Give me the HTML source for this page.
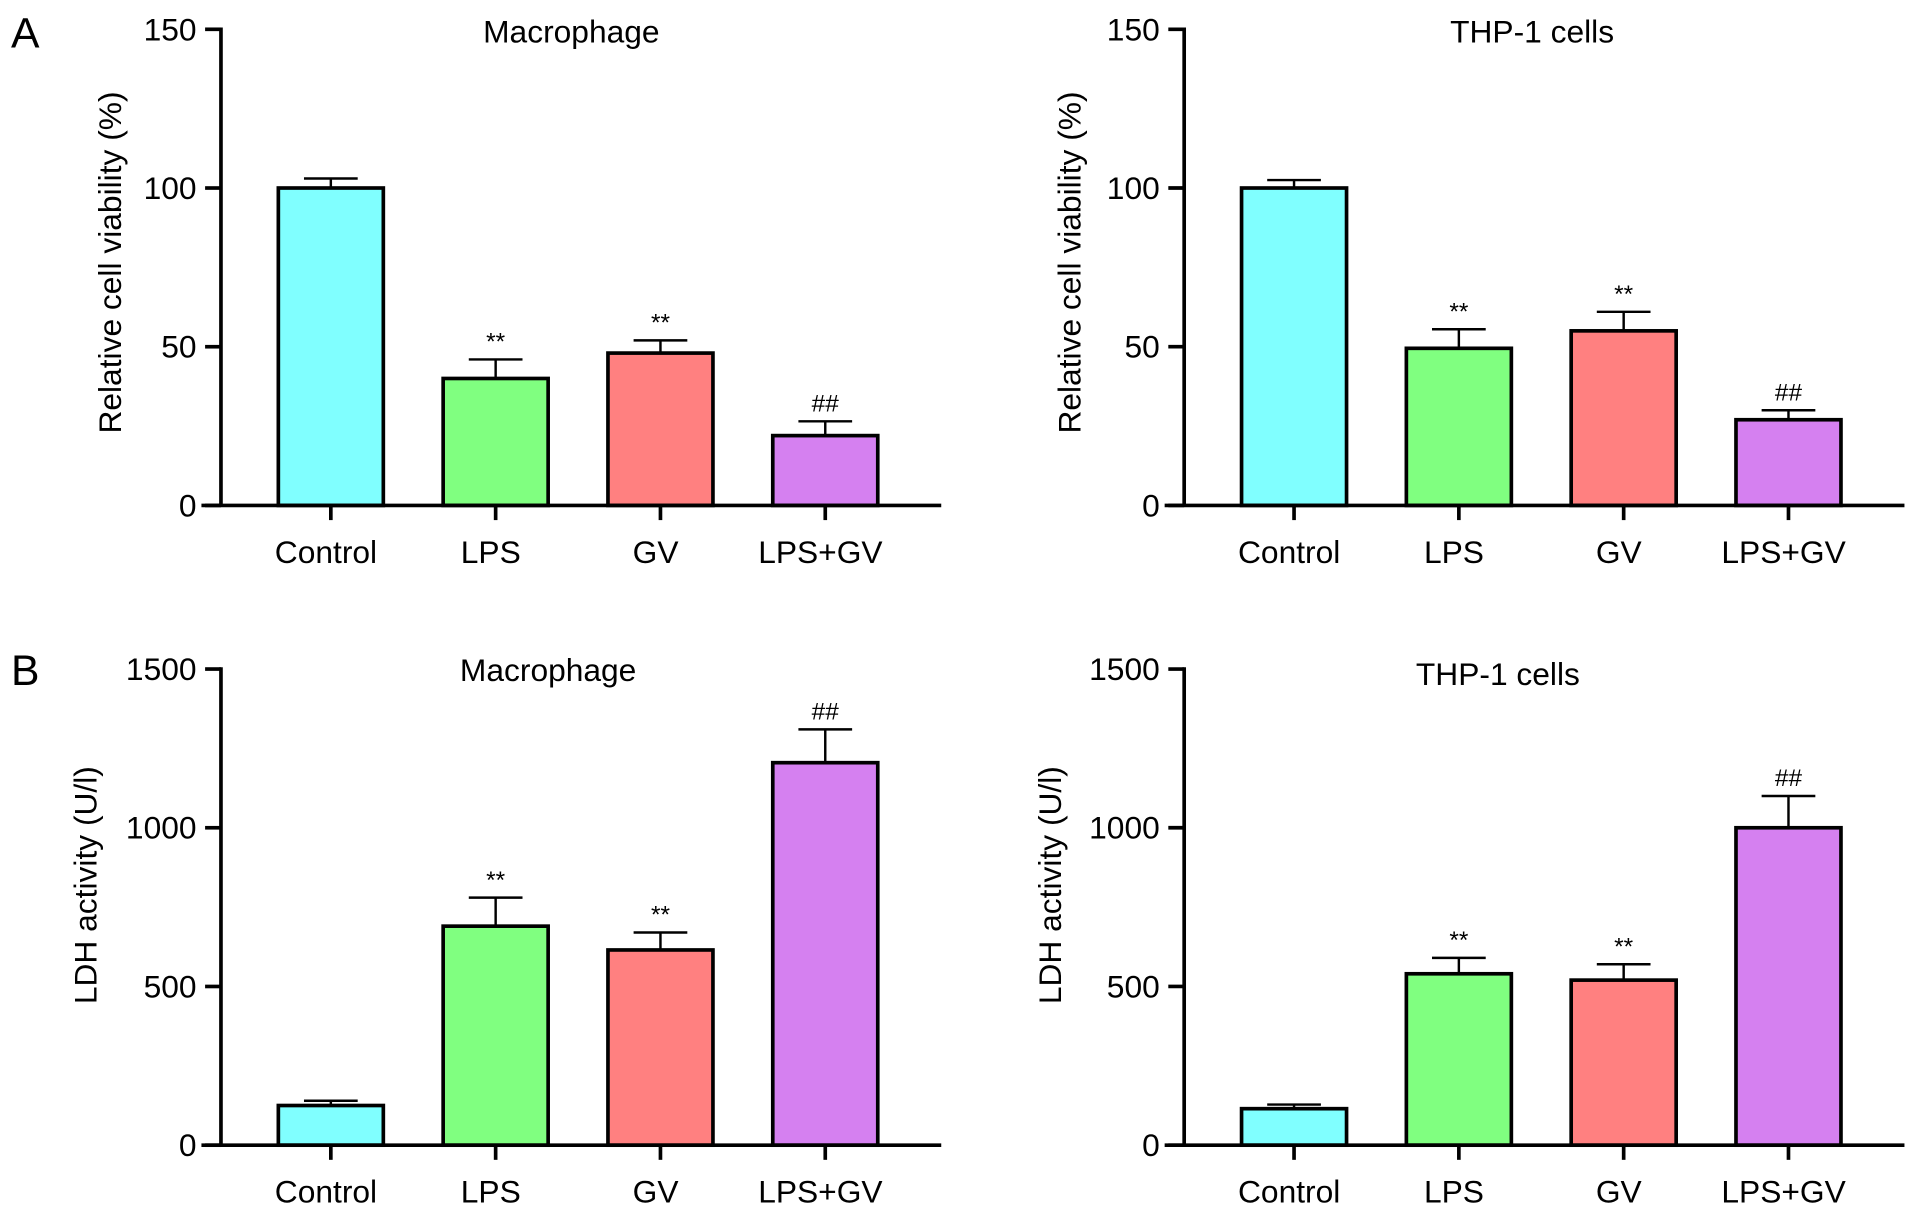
<!DOCTYPE html>
<html><head><meta charset="utf-8"><style>
html,body{margin:0;padding:0;background:#fff;}
svg{display:block;font-family:"Liberation Sans",Arial,sans-serif;}
</style></head><body>
<svg id="fig" width="1913" height="1216" viewBox="0 0 1567 996" preserveAspectRatio="none" xmlns="http://www.w3.org/2000/svg">
<text x="9" y="39" font-size="35">A</text>
<text x="9" y="561" font-size="35">B</text>
</svg>
<script>
const categories = ["Control","LPS","GV","LPS+GV"];
const colors = ["#80FFFF","#80FF80","#FF8080","#D580F0"];
const aMacroValues = [100,40,48,22];
const aMacroErr = [3,6,4,4.5];
const aTHPValues = [100,49.5,55,27];
const aTHPErr = [2.5,6,6,3];
const bMacroValues = [125,690,615,1205];
const bMacroErr = [15,90,55,105];
const bTHPValues = [115,540,520,1000];
const bTHPErr = [13,50,50,100];
const aMarks = ["","**","**","##"];
const bMarks = ["","**","**","##"];
const aTicks = [0,50,100,150];
const bTicks = [0,500,1000,1500];

const NS = "http://www.w3.org/2000/svg";
const svg = document.getElementById("fig");
function mk(tag, attrs, parent){
  const e = document.createElementNS(NS, tag);
  for (const k in attrs) e.setAttribute(k, attrs[k]);
  (parent||svg).appendChild(e);
  return e;
}
function chart(o){
  const g = mk("g", {});
  
  
  const y = v => o.y0 - (v / o.max) * (o.y0 - o.yTop);
  const x = i => o.ax + 90 + i * 135;
  o.values.forEach((v, i) => {
    const cx = x(i), top = y(v), et = y(v + o.err[i]);
    const eb = mk("line", {x1:cx, x2:cx, y1:top, y2:et, stroke:"#000", "stroke-width":2}, g);
    
    
    const cap = mk("line", {x1:cx-22, x2:cx+22, y1:et, y2:et, stroke:"#000", "stroke-width":2}, g);
    
    
    const r = mk("rect", {x:cx-43, y:top, width:86, height:o.y0-top, fill:colors[i], stroke:"#000", "stroke-width":3}, g);
    
    
    if (o.marks[i]) {
      const t = mk("text", {x:cx, y:et-8, "font-size":20, "text-anchor":"middle"}, g);
      t.textContent = o.marks[i];
      
      
    }
    const tk = mk("line", {x1:cx, x2:cx, y1:o.y0, y2:o.y0+12, stroke:"#000", "stroke-width":3}, g);
    
    
    const lb = mk("text", {x:cx-4, y:o.y0+47, "font-size":26, "text-anchor":"middle"}, g);
    lb.textContent = categories[i];
    
    
  });
  const ya = mk("line", {x1:o.ax, x2:o.ax, y1:o.yTop-1.5, y2:o.y0, stroke:"#000", "stroke-width":3}, g);
  
  
  const xa = mk("line", {x1:o.ax-16, x2:o.ax+590, y1:o.y0, y2:o.y0, stroke:"#000", "stroke-width":3}, g);
  
  
  o.ticks.forEach(t => {
    const ty = y(t);
    const l = mk("line", {x1:o.ax-13, x2:o.ax, y1:ty, y2:ty, stroke:"#000", "stroke-width":3}, g);
    
    
    const tt = mk("text", {x:o.ax-20, y:ty+9, "font-size":26, "text-anchor":"end"}, g);
    tt.textContent = t;
    
    
  });
  const ti = mk("text", {x:o.tx, y:o.ty, "font-size":26, "text-anchor":"middle"}, g);
  ti.textContent = o.title;
  
  
  const yl = mk("text", {x:0, y:0, "font-size":26, "text-anchor":"middle", transform:"translate("+o.lx+","+o.ly+") rotate(-90)"}, g);
  yl.textContent = o.ylabel;
  
  
}
chart({name:"chart-a-macrophage", ax:181, y0:414, yTop:24, max:150, values:aMacroValues, err:aMacroErr, marks:aMarks, ticks:aTicks, title:"Macrophage", tx:468, ty:35, ylabel:"Relative cell viability (%)", lx:99, ly:215});
chart({name:"chart-a-thp1", ax:970, y0:414, yTop:24, max:150, values:aTHPValues, err:aTHPErr, marks:aMarks, ticks:aTicks, title:"THP-1 cells", tx:1255, ty:35, ylabel:"Relative cell viability (%)", lx:885, ly:215});
chart({name:"chart-b-macrophage", ax:181, y0:938, yTop:548, max:1500, values:bMacroValues, err:bMacroErr, marks:bMarks, ticks:bTicks, title:"Macrophage", tx:449, ty:558, ylabel:"LDH activity (U/l)", lx:79, ly:725});
chart({name:"chart-b-thp1", ax:970, y0:938, yTop:548, max:1500, values:bTHPValues, err:bTHPErr, marks:bMarks, ticks:bTicks, title:"THP-1 cells", tx:1227, ty:561, ylabel:"LDH activity (U/l)", lx:869, ly:725});
</script>
</body></html>
